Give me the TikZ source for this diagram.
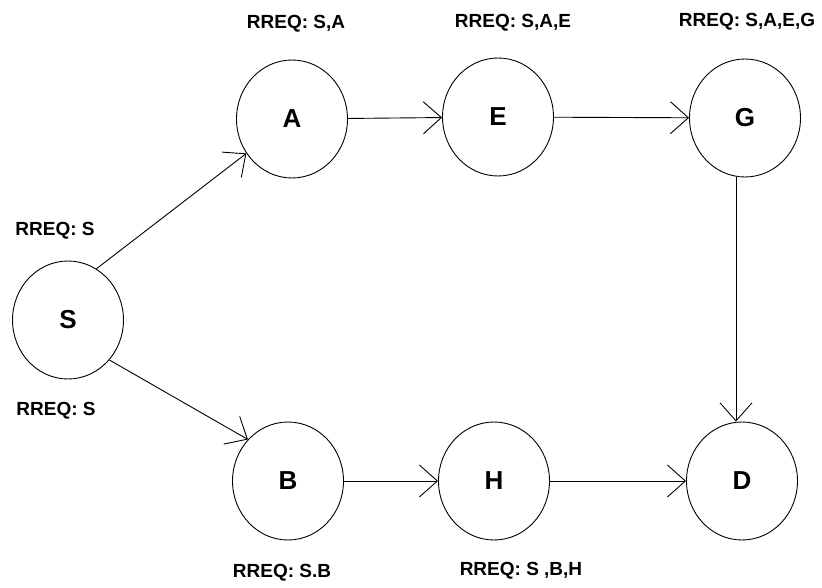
\documentclass[tikz,border=0pt]{standalone}
\usepackage{fontspec}
\setmainfont{Liberation Sans}
\usetikzlibrary{arrows.meta,shapes.geometric}
\begin{document}
\begin{tikzpicture}[x=1pt,y=-1pt,
  state/.style={draw, ellipse, minimum width=111pt, minimum height=118pt, inner sep=0pt, line width=0.9pt, font=\fontsize{26}{26}\selectfont\bfseries},
  lbl/.style={font=\fontsize{19}{19}\selectfont\bfseries, inner sep=0pt},
  arr/.style={line width=0.9pt, -{Straight Barb[length=18pt,width=32pt,line width=0.9pt]}}]
\useasboundingbox (0,0) rectangle (822,588);
\fill[white] (0,0) rectangle (822,588);
% nodes
\node[state] (S) at (68,320) {S};
\node[state] (A) at (292,119) {A};
\node[state] (E) at (498,117) {E};
\node[state] (G) at (745,118) {G};
\node[state] (B) at (288,481) {B};
\node[state] (H) at (494,481) {H};
\node[state] (D) at (742,481) {D};
% labels
\node[lbl] (lA) at (296,24) {RREQ: S,A};
\node[lbl] (lE) at (513,23) {RREQ: S,A,E};
\node[lbl] (lG) at (747,22) {RREQ: S,A,E,G};
\node[lbl] (lS1) at (55,231) {RREQ: S};
\node[lbl] (lS2) at (56,411) {RREQ: S};
\node[lbl] (lB) at (282,573) {RREQ: S.B};
\node[lbl] (lH) at (521,571) {RREQ: S ,B,H};
% connectors
\draw[arr] (S.61) -- (A.217);
\draw[arr] (S.-44) -- (B.134);
\draw[arr] (A) -- (E);
\draw[arr] (E) -- (G);
\draw[arr] ([xshift=-9pt]G.south) -- ([xshift=-6pt]D.north);
\draw[arr] (B) -- (H);
\draw[arr] (H) -- (D);
\end{tikzpicture}
\end{document}
